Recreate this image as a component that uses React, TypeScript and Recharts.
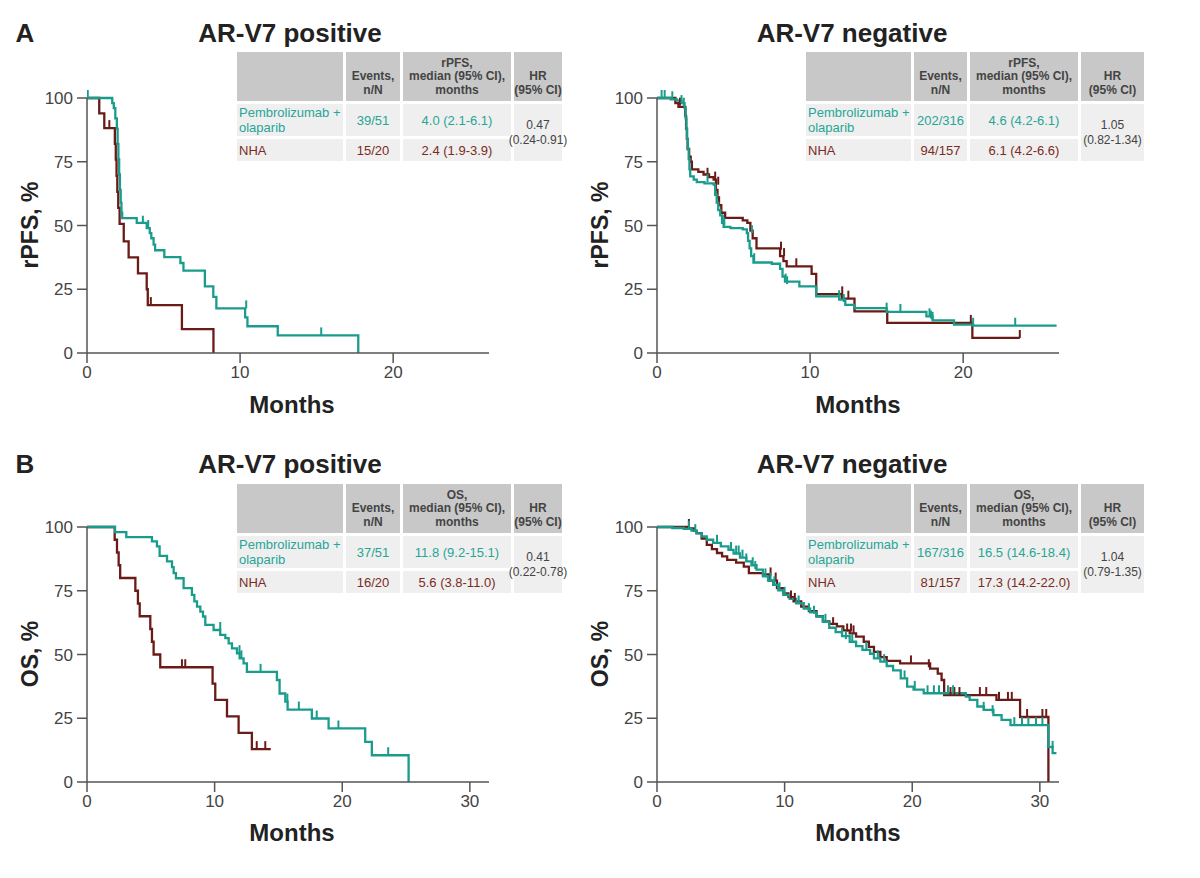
import React from "react";
import { ComposedChart, Line, Scatter, XAxis, YAxis } from "recharts";

const FONT = '"Liberation Sans", Arial, Helvetica, sans-serif';
const TEAL = "#1a9c8c";
const RED = "#6b1b17";
const TEAL_TXT = "#27a596";
const RED_TXT = "#7b2b22";
const AXIS = "#555555";

// [months, %] step points, KM curves
const posPfsPembro = [
  [0, 100], [1.65, 98], [1.75, 96], [1.85, 92], [1.95, 88], [2.0, 82], [2.05, 76], [2.1, 70],
  [2.15, 64], [2.2, 59], [2.25, 55], [2.3, 52.9], [3.25, 51], [3.9, 49], [4.1, 47], [4.2, 45],
  [4.35, 42.5], [4.45, 40.3], [5.05, 37.6], [6.1, 35.3], [6.3, 32.3], [7.7, 26.1], [8.25, 22],
  [8.45, 17.5], [10.33, 14], [10.48, 10.5], [12.46, 6.9], [17.72, 0],
];
const posPfsNha = [
  [0, 100], [0.8, 94], [1.13, 88.2], [1.82, 82], [1.88, 75.8], [1.93, 69.5], [1.98, 63.2],
  [2.04, 56.9], [2.13, 50.6], [2.4, 43.8], [2.72, 37.5], [3.33, 31.2], [3.9, 25], [3.97, 18.8],
  [6.2, 9.4], [8.26, 0],
];
const posPfsPembroCens = [[0.05, 100], [3.65, 50.7], [4.0, 49], [10.4, 17.5], [15.3, 6.9]];
const posPfsNhaCens = [[1.46, 88.2], [4.17, 18.8]];

const negPfsPembro = [
  [0, 100], [0.9, 99.5], [1.3, 99], [1.6, 98], [1.8, 96], [1.87, 92], [1.92, 88], [1.97, 84],
  [2.02, 80], [2.07, 76], [2.12, 72], [2.17, 69.3], [2.4, 68], [2.6, 67], [3.1, 66.5], [3.7, 66],
  [3.8, 62], [3.9, 59], [4.0, 56], [4.13, 54], [4.25, 51], [4.35, 49.5], [4.8, 49], [5.6, 48.5],
  [5.87, 47], [5.95, 44], [6.05, 41], [6.15, 38], [6.3, 35.5], [7.5, 35], [8.04, 33], [8.2, 30],
  [8.36, 28], [9.3, 26.1], [10.4, 22.2], [11.9, 20.9], [12.3, 18.9], [12.9, 17.6], [15.0, 16.1],
  [17.6, 14.4], [18.0, 12.8], [19.4, 11.1], [20.65, 10.7], [26.1, 10.7],
];
const negPfsNha = [
  [0, 100], [1.2, 98], [1.4, 96.5], [1.85, 93], [1.9, 88], [1.95, 84], [2.0, 80], [2.1, 77],
  [2.2, 75], [2.28, 72], [2.7, 71], [3.04, 70], [3.4, 69], [3.7, 68], [3.85, 64], [3.95, 61],
  [4.05, 58], [4.2, 55], [4.45, 53], [5.6, 52], [5.9, 51], [6.1, 48], [6.25, 45], [6.5, 41],
  [8.04, 38], [8.26, 36], [8.47, 34], [10.1, 31], [10.4, 23.1], [12.07, 21.3], [12.9, 16.3],
  [15.04, 11.8], [20.6, 5.9], [23.7, 5.9],
];
const negPfsPembroCens = [
  [0.3, 100], [0.5, 100], [1.0, 99.5], [1.6, 98], [1.75, 97], [3.3, 67], [4.3, 51], [4.4, 50],
  [6.2, 47], [6.35, 36], [8.4, 28], [8.5, 27], [11.9, 21.5], [12.2, 20], [15.0, 16.6],
  [15.9, 16.1], [17.8, 14.4], [17.9, 13.5], [18.0, 13], [20.65, 10.7], [23.4, 10.7],
];
const negPfsNhaCens = [
  [1.5, 97], [3.3, 69.5], [3.8, 68], [4.0, 66], [8.1, 40.5], [8.3, 38], [9.1, 34], [12.1, 23],
  [12.5, 21.3], [20.5, 11.8], [23.7, 5.9],
];

const posOsPembro = [
  [0, 100], [2.2, 98], [3.08, 96], [5.09, 94.4], [5.48, 92.4], [5.69, 88.7], [6.27, 86.5],
  [6.66, 84.3], [6.79, 81.9], [6.97, 79.9], [7.57, 76], [8.22, 73.4], [8.41, 70.8], [8.62, 68.8],
  [8.88, 66.8], [9.09, 64.9], [9.27, 61.6], [9.92, 59.6], [10.44, 57.7], [10.84, 56.4],
  [11.1, 54.4], [11.36, 52.4], [11.75, 50.5], [11.96, 48.5], [12.27, 46.5], [12.53, 43.2],
  [14.88, 40], [15.09, 34.7], [15.54, 31.5], [15.72, 28.4], [17.62, 24.9], [18.93, 21],
  [21.8, 15.7], [22.32, 10.5], [25.2, 0],
];
const posOsNha = [
  [0, 100], [2.17, 95], [2.35, 90], [2.48, 85], [2.6, 80], [3.79, 75], [3.99, 70], [4.13, 65],
  [4.96, 60], [5.09, 55], [5.22, 50], [5.74, 45], [9.84, 38.6], [10.05, 32.2], [10.97, 25.7],
  [11.88, 19.3], [12.92, 12.9], [14.4, 12.9],
];
const posOsPembroCens = [
  [10.44, 59.6], [11.95, 50.5], [12.1, 48.5], [13.6, 43.2], [15.7, 31.5], [16.6, 28.4],
  [18.0, 24.9], [19.7, 21], [23.6, 10.5],
];
const posOsNhaCens = [[7.44, 45], [7.7, 45], [13.3, 12.9], [13.97, 12.9]];

const negOsPembro = [
  [0, 100], [1.2, 99.6], [2.1, 99.3], [2.7, 98.6], [3.1, 97.5], [3.5, 96.3], [3.9, 95],
  [4.4, 93.8], [5.0, 92.4], [5.6, 91], [6.0, 89.6], [6.5, 88], [7.0, 86.5], [7.4, 85],
  [7.8, 83.3], [8.3, 80.6], [8.7, 79], [9.1, 77.3], [9.5, 75.2], [9.9, 73.4], [10.4, 71.8],
  [10.9, 70.1], [11.5, 68], [12.0, 66.5], [12.5, 64.9], [13.0, 62.8], [13.5, 60.5], [14.0, 58.8],
  [14.5, 57.2], [15.1, 55], [15.6, 53.3], [16.1, 51.8], [16.7, 50.3], [17.0, 48.5], [17.5, 47.2],
  [18.0, 45.5], [18.5, 43.8], [19.1, 40.6], [19.6, 37.4], [20.1, 36.2], [20.9, 34.8],
  [24.2, 33.5], [24.5, 32.2], [25.1, 29.6], [25.6, 28.3], [26.36, 26.2], [27.0, 24.4],
  [27.7, 22.3], [30.67, 13.8], [31.0, 11.3], [31.3, 11.3],
];
const negOsNha = [
  [0, 100], [2.5, 99.5], [2.9, 98.5], [3.1, 97.6], [3.5, 95.5], [3.9, 93], [4.3, 91.3],
  [4.7, 89.8], [5.1, 88.5], [5.5, 87.1], [6.2, 86], [6.8, 84.5], [7.2, 81.9], [8.3, 81.4],
  [8.8, 79], [9.4, 76], [9.9, 74], [10.3, 72.5], [10.7, 70.8], [11.3, 68.8], [11.9, 67],
  [12.5, 65], [13.0, 63], [13.5, 62], [14.1, 61], [14.6, 59.5], [15.1, 58.3], [15.6, 57],
  [16.2, 55], [16.6, 53], [17.0, 51], [17.5, 49], [18.0, 47.5], [19.05, 46.5], [21.4, 44.5],
  [22.0, 42.5], [22.3, 40], [22.5, 34.1], [26.6, 32.2], [28.45, 25.5], [30.67, 0],
];
const negOsPembroCens = [
  [2.5, 99.3], [3.0, 98], [4.7, 93.8], [5.8, 91], [6.2, 89.6], [6.4, 89.6], [6.7, 88], [7.0, 86.5],
  [7.5, 85], [7.7, 83.5], [8.5, 80.6], [8.9, 79], [9.2, 77.5], [9.6, 75.2], [10.0, 73.4],
  [11.1, 70], [11.9, 67], [12.3, 66], [13.2, 62.8], [14.5, 57.2], [14.8, 56], [15.3, 55],
  [16.4, 51.8], [17.3, 48.5], [17.8, 47], [19.4, 40.6], [20.2, 36.5], [21.2, 34.8], [21.7, 34.8],
  [22.1, 34.8], [22.8, 34.8], [23.2, 34.8], [25.6, 28.3], [26.3, 27], [28.0, 22.3], [28.6, 22.3],
  [29.1, 22.3], [29.7, 22.3], [30.2, 22.3], [31.0, 13],
];
const negOsNhaCens = [
  [2.5, 100], [8.9, 81], [9.3, 79], [10.5, 72], [10.8, 71], [13.8, 61.5], [14.9, 59], [15.2, 59],
  [15.4, 58.3], [19.9, 46.5], [21.3, 45], [23.0, 34.1], [23.3, 34.1], [23.7, 34.1], [25.3, 34.1],
  [25.8, 34.1], [26.8, 32.2], [27.5, 32.2], [27.8, 32.2], [29.0, 25.5], [30.2, 25.5], [30.5, 25.5],
];

const yTicks = [0, 25, 50, 75, 100];
const pfsTicks = [0, 10, 20];
const osTicks = [0, 10, 20, 30];

// table text
const pfsPosRows = [["39/51", "4.0 (2.1-6.1)"], ["15/20", "2.4 (1.9-3.9)"]];
const pfsNegRows = [["202/316", "4.6 (4.2-6.1)"], ["94/157", "6.1 (4.2-6.6)"]];
const osPosRows = [["37/51", "11.8 (9.2-15.1)"], ["16/20", "5.6 (3.8-11.0)"]];
const osNegRows = [["167/316", "16.5 (14.6-18.4)"], ["81/157", "17.3 (14.2-22.0)"]];
const hrValues = [["0.47", "(0.24-0.91)"], ["1.05", "(0.82-1.34)"], ["0.41", "(0.22-0.78)"], ["1.04", "(0.79-1.35)"]];

const toPts = (a: number[][]) => a.map(([t, s]) => ({ t, s }));

const censor = (color: string) => (p: any) =>
  <line x1={p.cx} y1={p.cy} x2={p.cx} y2={p.cy - 8} stroke={color} strokeWidth={2} />;

function KMPanel({ left, top, xMax, xTicks, pembro, nha, pembroCens, nhaCens }: any) {
  return (
    <div style={{ position: "absolute", left, top }}>
      <ComposedChart width={560} height={430} margin={{ top: 98, right: 71, bottom: 0, left: 0 }}>
        <XAxis type="number" dataKey="t" domain={[0, xMax]} ticks={xTicks} allowDataOverflow
          height={77} tickSize={10} tickMargin={3} stroke={AXIS} strokeWidth={1.5}
          tick={{ fill: "#444", fontSize: 17, fontFamily: FONT }} />
        <YAxis type="number" dataKey="s" domain={[0, 100]} ticks={yTicks} width={87}
          tickSize={10} tickMargin={4} stroke={AXIS} strokeWidth={1.5}
          tick={{ fill: "#444", fontSize: 17, fontFamily: FONT }} />
        <Line data={toPts(nha)} dataKey="s" type="stepAfter" stroke={RED} strokeWidth={2.3}
          dot={false} activeDot={false} isAnimationActive={false} />
        <Scatter data={toPts(nhaCens)} dataKey="s" shape={censor(RED)} isAnimationActive={false} />
        <Line data={toPts(pembro)} dataKey="s" type="stepAfter" stroke={TEAL} strokeWidth={2.3}
          dot={false} activeDot={false} isAnimationActive={false} />
        <Scatter data={toPts(pembroCens)} dataKey="s" shape={censor(TEAL)} isAnimationActive={false} />
      </ComposedChart>
    </div>
  );
}

const cell = (x: number, y: number, w: number, h: number, bg: string, extra: any, children: any) => (
  <div style={{
    position: "absolute", left: x, top: y, width: w, height: h, background: bg,
    display: "flex", boxSizing: "border-box", ...extra,
  }}>{children}</div>
);

function KMTable({ left, top, widths, metric, rows, hr }: any) {
  const xs: number[] = [];
  let x = left;
  widths.forEach((w: number) => { xs.push(x); x += w + 3; });
  const head = { fontWeight: "bold", color: "#444", fontSize: 12, lineHeight: "13.5px", textAlign: "center",
    alignItems: "flex-end", justifyContent: "center", paddingBottom: 4, whiteSpace: "nowrap" };
  const H = "#c8c8c8";
  const B = "#efefef";
  const mid = { alignItems: "center", justifyContent: "center", fontSize: 13, textAlign: "center", whiteSpace: "nowrap" };
  return (
    <div>
      {cell(xs[0], top, widths[0], 49, H, {}, null)}
      {cell(xs[1], top, widths[1], 49, H, head, <span>Events,<br />n/N</span>)}
      {cell(xs[2], top, widths[2], 49, H, head, <span>{metric},<br />median (95% CI),<br />months</span>)}
      {cell(xs[3], top, widths[3], 49, H, head, <span>HR<br />(95% CI)</span>)}
      {cell(xs[0], top + 52, widths[0], 32, B, { alignItems: "center", paddingLeft: 2, fontSize: 13, lineHeight: "15px", color: TEAL_TXT, whiteSpace: "nowrap" }, <span>Pembrolizumab +<br />olaparib</span>)}
      {cell(xs[1], top + 52, widths[1], 32, B, { ...mid, color: TEAL_TXT }, rows[0][0])}
      {cell(xs[2], top + 52, widths[2], 32, B, { ...mid, color: TEAL_TXT }, rows[0][1])}
      {cell(xs[0], top + 87, widths[0], 22, B, { alignItems: "center", paddingLeft: 2, fontSize: 13, color: RED_TXT }, "NHA")}
      {cell(xs[1], top + 87, widths[1], 22, B, { ...mid, color: RED_TXT }, rows[1][0])}
      {cell(xs[2], top + 87, widths[2], 22, B, { ...mid, color: RED_TXT }, rows[1][1])}
      {cell(xs[3], top + 52, widths[3], 57, B, { ...mid, fontSize: 12, color: "#444", lineHeight: "15px" }, <span>{hr[0]}<br />{hr[1]}</span>)}
    </div>
  );
}

const txt = (x: number, y: number, s: string, size: number, extra: any = {}) => (
  <div style={{
    position: "absolute", left: x, top: y, transform: "translate(-50%, -50%)", fontSize: size,
    fontWeight: "bold", color: "#222", whiteSpace: "nowrap", ...extra,
  }}>{s}</div>
);

const rot = { transform: "translate(-50%, -50%) rotate(-90deg)" };

export default function App() {
  const lw = [106, 54, 108, 48];
  const rw = [105, 53, 108, 63];
  return (
    <div style={{ position: "absolute", left: 0, top: 0, width: 1200, height: 878, background: "#fff", overflow: "hidden", fontFamily: FONT }}>
      <KMPanel left={0} top={0} xMax={26.26} xTicks={pfsTicks} pembro={posPfsPembro} nha={posPfsNha} pembroCens={posPfsPembroCens} nhaCens={posPfsNhaCens} />
      <KMPanel left={570} top={0} xMax={26.26} xTicks={pfsTicks} pembro={negPfsPembro} nha={negPfsNha} pembroCens={negPfsPembroCens} nhaCens={negPfsNhaCens} />
      <KMPanel left={0} top={429} xMax={31.5} xTicks={osTicks} pembro={posOsPembro} nha={posOsNha} pembroCens={posOsPembroCens} nhaCens={posOsNhaCens} />
      <KMPanel left={570} top={429} xMax={31.5} xTicks={osTicks} pembro={negOsPembro} nha={negOsNha} pembroCens={negOsPembroCens} nhaCens={negOsNhaCens} />

      <KMTable left={237} top={52} widths={lw} metric="rPFS" rows={pfsPosRows} hr={hrValues[0]} />
      <KMTable left={806} top={52} widths={rw} metric="rPFS" rows={pfsNegRows} hr={hrValues[1]} />
      <KMTable left={237} top={484} widths={lw} metric="OS" rows={osPosRows} hr={hrValues[2]} />
      <KMTable left={806} top={484} widths={rw} metric="OS" rows={osNegRows} hr={hrValues[3]} />

      {txt(25, 33, "A", 26)}
      {txt(25, 464, "B", 26)}
      {txt(290, 33, "AR-V7 positive", 26)}
      {txt(852, 33, "AR-V7 negative", 26)}
      {txt(290, 464, "AR-V7 positive", 26)}
      {txt(852, 464, "AR-V7 negative", 26)}
      {txt(292, 405, "Months", 24)}
      {txt(858, 405, "Months", 24)}
      {txt(292, 833, "Months", 24)}
      {txt(858, 833, "Months", 24)}
      {txt(30, 225, "rPFS, %", 23, rot)}
      {txt(600, 225, "rPFS, %", 23, rot)}
      {txt(30, 654, "OS, %", 23, rot)}
      {txt(600, 654, "OS, %", 23, rot)}
    </div>
  );
}
